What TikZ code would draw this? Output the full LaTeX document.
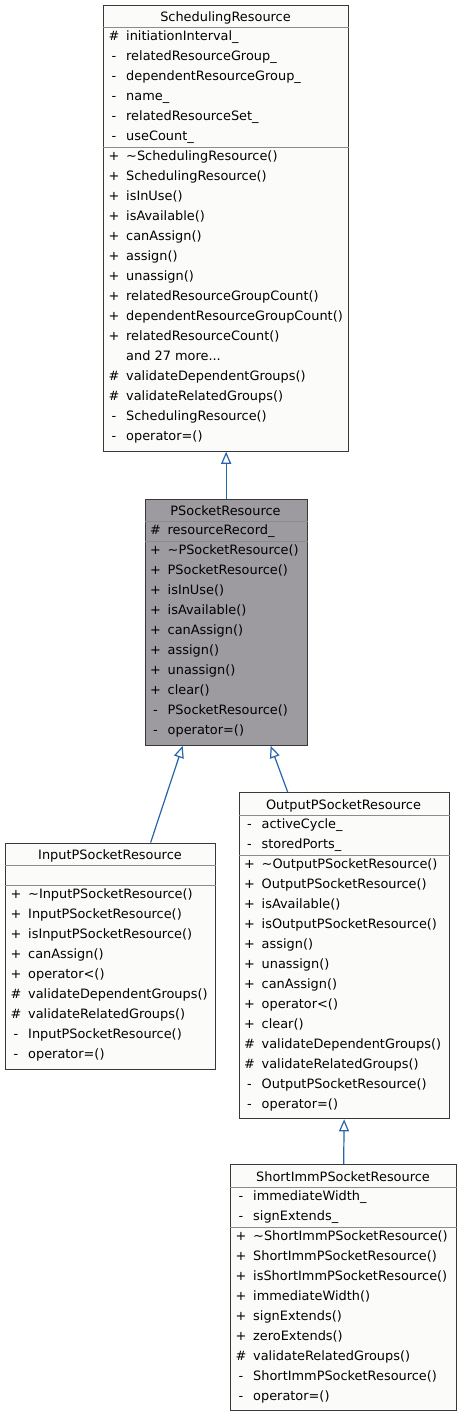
\documentclass[tikz,border=0pt]{standalone}
\usepackage{fontspec}
\setmainfont{DejaVu Sans}
\usetikzlibrary{arrows.meta}
\definecolor{boxfill}{HTML}{FBFCFA}
\definecolor{curfill}{HTML}{9D9B9F}
\definecolor{boxline}{HTML}{383838}
\definecolor{rowline}{HTML}{8C8C8C}
\definecolor{edgeblue}{RGB}{40,100,170}
\newcommand\moredots{...}
\tikzset{
    classbox/.style={draw=boxline, line width=1.3pt, fill=boxfill, anchor=north west, inner sep=0pt},
    rowsep/.style={draw=rowline, line width=0.9pt},
    title/.style={anchor=base, inner sep=0pt, font=\fontsize{12.9}{15}\selectfont},
    vis/.style={anchor=base, inner sep=0pt, font=\fontsize{12.9}{15}\selectfont},
    member/.style={anchor=base west, inner sep=0pt, font=\fontsize{12.9}{15}\selectfont},
    inherit/.style={draw=edgeblue, line width=1.2pt, -{Triangle[open, length=12pt, width=10pt]}}
}
\begin{document}
\begin{tikzpicture}[x=1pt, y=-1pt]
    \useasboundingbox (0,0) rectangle (461,1416);

    % SchedulingResource
    \node[classbox, minimum width=245pt, minimum height=446pt] (sched) at (103,4.5) {};
        \draw[rowsep] (sched.west |- 0,27.5) -- (sched.east |- 0,27.5);
        \draw[rowsep] (sched.west |- 0,147.5) -- (sched.east |- 0,147.5);
        \node[title] (sched-t) at (225.5,21.5) {SchedulingResource};
        \foreach \v/\m [count=\i] in {\#/initiationInterval\_, -/relatedResourceGroup\_,
                -/dependentResourceGroup\_, -/name\_, -/relatedResourceSet\_, -/useCount\_}
            {\node[vis] (sched-av\i) at (114,20.5+20*\i) {\v};
             \node[member] (sched-a\i) at (126,20.5+20*\i) {\m};}
        \foreach \v/\m [count=\i] in {+/\textasciitilde SchedulingResource(), +/SchedulingResource(),
                +/isInUse(), +/isAvailable(), +/canAssign(), +/assign(), +/unassign(),
                +/relatedResourceGroupCount(), +/dependentResourceGroupCount(),
                +/relatedResourceCount(), {}/and 27 more\moredots, \#/validateDependentGroups(),
                \#/validateRelatedGroups(), -/SchedulingResource(), -/operator=()}
            {\node[vis] (sched-mv\i) at (114,140.5+20*\i) {\v};
             \node[member] (sched-m\i) at (126,140.5+20*\i) {\m};}

    % PSocketResource
    \node[classbox, fill=curfill, minimum width=162pt, minimum height=246pt] (psock) at (144.5,498.5) {};
        \draw[rowsep] (psock.west |- 0,521.5) -- (psock.east |- 0,521.5);
        \draw[rowsep] (psock.west |- 0,541.5) -- (psock.east |- 0,541.5);
        \node[title] (psock-t) at (225.5,515.5) {PSocketResource};
        \node[vis] (psock-av1) at (155.5,534.5) {\#};
        \node[member] (psock-a1) at (167.5,534.5) {resourceRecord\_};
        \foreach \v/\m [count=\i] in {+/\textasciitilde PSocketResource(), +/PSocketResource(),
                +/isInUse(), +/isAvailable(), +/canAssign(), +/assign(), +/unassign(),
                +/clear(), -/PSocketResource(), -/operator=()}
            {\node[vis] (psock-mv\i) at (155.5,534.5+20*\i) {\v};
             \node[member] (psock-m\i) at (167.5,534.5+20*\i) {\m};}

    % InputPSocketResource
    \node[classbox, minimum width=210pt, minimum height=226pt] (input) at (5,842.5) {};
        \draw[rowsep] (input.west |- 0,865.5) -- (input.east |- 0,865.5);
        \draw[rowsep] (input.west |- 0,885.5) -- (input.east |- 0,885.5);
        \node[title] (input-t) at (110,859.5) {InputPSocketResource};
        \foreach \v/\m [count=\i] in {+/\textasciitilde InputPSocketResource(), +/InputPSocketResource(),
                +/isInputPSocketResource(), +/canAssign(), +/operator<(),
                \#/validateDependentGroups(), \#/validateRelatedGroups(),
                -/InputPSocketResource(), -/operator=()}
            {\node[vis] (input-mv\i) at (16,878.5+20*\i) {\v};
             \node[member] (input-m\i) at (28,878.5+20*\i) {\m};}

    % OutputPSocketResource
    \node[classbox, minimum width=210pt, minimum height=326pt] (output) at (238.5,792) {};
        \draw[rowsep] (output.west |- 0,815) -- (output.east |- 0,815);
        \draw[rowsep] (output.west |- 0,855) -- (output.east |- 0,855);
        \node[title] (output-t) at (343.5,809) {OutputPSocketResource};
        \foreach \v/\m [count=\i] in {-/activeCycle\_, -/storedPorts\_}
            {\node[vis] (output-av\i) at (249.5,808+20*\i) {\v};
             \node[member] (output-a\i) at (261.5,808+20*\i) {\m};}
        \foreach \v/\m [count=\i] in {+/\textasciitilde OutputPSocketResource(), +/OutputPSocketResource(),
                +/isAvailable(), +/isOutputPSocketResource(), +/assign(), +/unassign(),
                +/canAssign(), +/operator<(), +/clear(), \#/validateDependentGroups(),
                \#/validateRelatedGroups(), -/OutputPSocketResource(), -/operator=()}
            {\node[vis] (output-mv\i) at (249.5,848+20*\i) {\v};
             \node[member] (output-m\i) at (261.5,848+20*\i) {\m};}

    % ShortImmPSocketResource
    \node[classbox, minimum width=226pt, minimum height=246pt] (shortimm) at (230,1164) {};
        \draw[rowsep] (shortimm.west |- 0,1187) -- (shortimm.east |- 0,1187);
        \draw[rowsep] (shortimm.west |- 0,1227) -- (shortimm.east |- 0,1227);
        \node[title] (shortimm-t) at (343,1181) {ShortImmPSocketResource};
        \foreach \v/\m [count=\i] in {-/immediateWidth\_, -/signExtends\_}
            {\node[vis] (shortimm-av\i) at (241,1180+20*\i) {\v};
             \node[member] (shortimm-a\i) at (253,1180+20*\i) {\m};}
        \foreach \v/\m [count=\i] in {+/\textasciitilde ShortImmPSocketResource(), +/ShortImmPSocketResource(),
                +/isShortImmPSocketResource(), +/immediateWidth(), +/signExtends(),
                +/zeroExtends(), \#/validateRelatedGroups(), -/ShortImmPSocketResource(),
                -/operator=()}
            {\node[vis] (shortimm-mv\i) at (241,1220+20*\i) {\v};
             \node[member] (shortimm-m\i) at (253,1220+20*\i) {\m};}

    % inheritance
    \draw[inherit] (psock.north) -- (sched.south);
    \draw[inherit] ([xshift=40pt]input.north) -- ([xshift=-43.5pt]psock.south);
    \draw[inherit] ([xshift=-56.5pt]output.north) -- ([xshift=44.5pt]psock.south);
    \draw[inherit] (shortimm.north) -- (output.south);
\end{tikzpicture}
\end{document}
